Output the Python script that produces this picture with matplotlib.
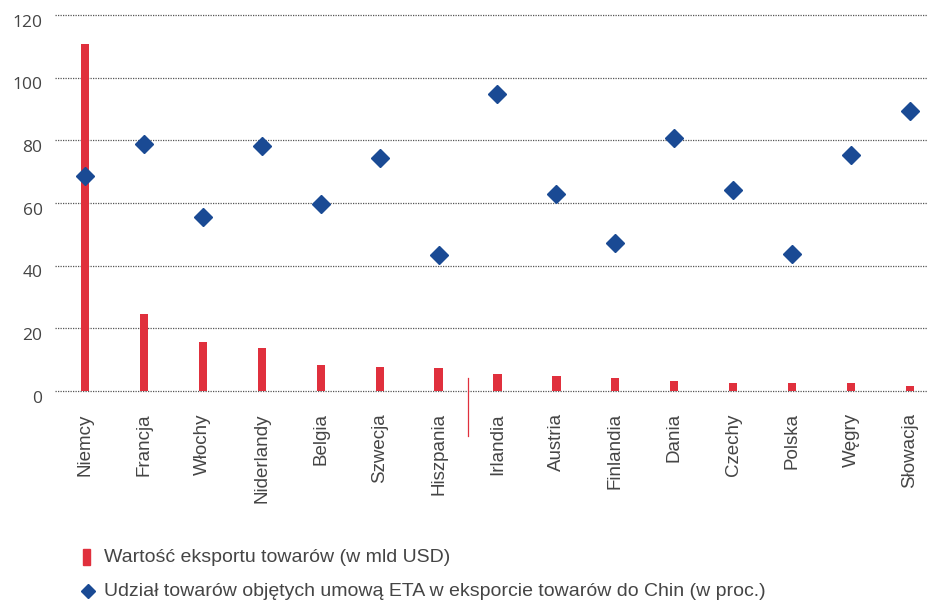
import matplotlib
matplotlib.use("Agg")
import matplotlib.pyplot as plt
import numpy as np

plt.rcParams['font.family'] = ['Liberation Sans', 'DejaVu Sans']

countries = ["Niemcy", "Francja", "Włochy", "Niderlandy", "Belgia", "Szwecja",
             "Hiszpania", "Irlandia", "Austria", "Finlandia", "Dania", "Czechy",
             "Polska", "Węgry", "Słowacja"]
export_value = [110.8, 24.6, 15.6, 13.7, 8.3, 7.8, 7.4, 5.5, 4.9, 4.1, 3.2,
                2.6, 2.6, 2.4, 1.6]
eta_share = [68.6, 78.8, 55.5, 78.2, 59.7, 74.4, 43.4, 94.8, 62.9, 47.2,
             80.8, 64.2, 43.7, 75.3, 89.4]
yticks = [0, 20, 40, 60, 80, 100, 120]

red = "#E0303D"
blue = "#1A4A94"
text_col = "#454545"

fig = plt.figure(figsize=(9.27, 6.01), dpi=100)
W, H = 927, 601
ax = fig.add_axes([55 / W, (H - 391) / H, (927 - 55) / W, (391 - 15) / H])

x = np.arange(len(countries))
ax.bar(x, export_value, width=0.14, color=red, zorder=2)
ax.plot(x, eta_share, linestyle="none", marker="D", markersize=9,
        color=blue, zorder=3)

ax.set_xlim(-0.51, len(countries) - 1 + 0.29)
ax.set_ylim(0, 120)
for spine in ax.spines.values():
    spine.set_visible(False)

for v in yticks:
    ax.axhline(v, color="#555555", linestyle=(0, (1, 1)), linewidth=0.9,
               zorder=1, clip_on=False)

# y labels sit a little below their gridlines
ax.set_yticks([])
for v in yticks:
    ax.annotate(str(v), xy=(0, v), xycoords=("axes fraction", "data"),
                xytext=(-9, -5.5), textcoords="offset points",
                ha="right", va="center", fontsize=12.5, color=text_col,
                family=["Open Sans", "DejaVu Sans"])

ax.tick_params(axis="x", length=0, pad=16)
ax.set_xticks(x)
ax.set_xticklabels(countries, rotation=90, fontsize=13.5, color=text_col,
                   va="top", ha="center")

# separator between Hiszpania and Irlandia
ax.plot([6.5, 6.5], [4, -14.4], color=red, linewidth=0.9, clip_on=False, zorder=4)

# legend
fig.patches.append(plt.Rectangle((83 / W, (H - 565) / H), 7 / W, 16 / H,
                                 transform=fig.transFigure, color=red))
fig.text(104 / W, (H - 557) / H, "Wartość eksportu towarów (w mld USD)",
         fontsize=14, color=text_col, va="center", ha="left")
fig.lines.append(plt.Line2D([88 / W], [(H - 591) / H], marker="D", markersize=7,
                            color=blue, transform=fig.transFigure))
fig.text(104 / W, (H - 591) / H,
         "Udział towarów objętych umową ETA w eksporcie towarów do Chin (w proc.)",
         fontsize=14, color=text_col, va="center", ha="left")

fig.savefig("out.png", dpi=100)
